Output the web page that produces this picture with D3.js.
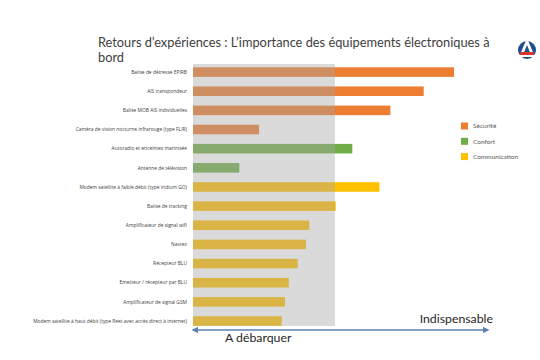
<!DOCTYPE html>
<html><head><meta charset="utf-8">
<script src="https://cdn.jsdelivr.net/npm/d3@7"></script>
<style>html,body{margin:0;padding:0;background:#fff;}svg{display:block;}</style>
</head><body>
<script>
const categories = [
  "Balise de détresse EPIRB",
  "AIS transpondeur",
  "Balise MOB AIS individuelles",
  "Caméra de vision nocturne infrarouge (type FLIR)",
  "Autoradio et enceintes marinisée",
  "Antenne de télévision",
  "Modem satellite à faible débit (type iridium GO)",
  "Balise de tracking",
  "Amplificateur de signal wifi",
  "Navtex",
  "Récepteur BLU",
  "Emetteur / récepteur par BLU",
  "Amplificateur de signal GSM",
  "Modem satellite à haut débit (type fleet avec accès direct à internet)"
];
const values = [8.85, 7.82, 6.69, 2.24, 5.40, 1.57, 6.32, 4.84, 3.94, 3.83, 3.55, 3.25, 3.12, 3.01];
const groups = ["Sécurité","Sécurité","Sécurité","Sécurité","Confort","Confort",
  "Communication","Communication","Communication","Communication","Communication","Communication","Communication","Communication"];
const seriesNames = ["Sécurité", "Confort", "Communication"];
const seriesColors = ["#ED7D31", "#70AD47", "#FFC000"];
const threshold = 4.81;
const titleLines = ["Retours d’expériences : L’importance des équipements électroniques à", "bord"];
const axisLabels = ["A débarquer", "Indispensable"];

const W = 540, H = 360;
const svg = d3.select("body").append("svg").attr("width", W).attr("height", H);
const font = "Lato, 'Open Sans', sans-serif";

const x = d3.scaleLinear().domain([0, 10]).range([193, 488]);
const y = d3.scaleBand().domain(categories).range([62.5, 330.6]).paddingInner(0.5).paddingOuter(0.25);
const color = d3.scaleOrdinal().domain(seriesNames).range(seriesColors);

// title
svg.append("g").selectAll("text").data(titleLines).join("text")
  .attr("x", 98).attr("y", (d, i) => 47 + i * 15)
  .attr("font-family", font).attr("font-size", 12.8).attr("fill", "#404040")
  .text(d => d);

// bars
svg.append("g").selectAll("rect").data(categories).join("rect")
  .attr("x", x(0)).attr("y", d => y(d))
  .attr("width", (d, i) => x(values[i]) - x(0))
  .attr("height", y.bandwidth())
  .attr("fill", (d, i) => color(groups[i]));

// gray overlay
svg.append("rect")
  .attr("x", x(0)).attr("y", 64)
  .attr("width", x(threshold) - x(0)).attr("height", 262)
  .attr("fill", "#A8A8A8").attr("opacity", 0.42);

// category labels
svg.append("g").selectAll("text").data(categories).join("text")
  .attr("x", 187).attr("y", d => y(d) + y.bandwidth() / 2)
  .attr("dy", "0.35em").attr("text-anchor", "end")
  .attr("font-family", "'Open Sans', sans-serif").attr("font-size", 4.9).attr("fill", "#404040")
  .text(d => d);

// legend
const lg = svg.append("g").selectAll("g").data(seriesNames).join("g")
  .attr("transform", (d, i) => `translate(461,${122.5 + i * 15.3})`);
lg.append("rect").attr("width", 7).attr("height", 7).attr("fill", d => color(d));
lg.append("text").attr("x", 12).attr("y", 3.5).attr("dy", "0.35em")
  .attr("font-family", font).attr("font-size", 6.5).attr("fill", "#595959").text(d => d);

// double arrow axis
const defs = svg.append("defs");
defs.append("marker").attr("id", "ah").attr("viewBox", "0 0 10 10").attr("refX", 8).attr("refY", 5)
  .attr("markerWidth", 4).attr("markerHeight", 4).attr("orient", "auto-start-reverse")
  .append("path").attr("d", "M0,0 L10,5 L0,10 z").attr("fill", "#5B80B0");
svg.append("line").attr("x1", x(0)).attr("x2", x(10)).attr("y1", 330).attr("y2", 330)
  .attr("stroke", "#5B80B0").attr("stroke-width", 1.6)
  .attr("marker-start", "url(#ah)").attr("marker-end", "url(#ah)");

svg.append("text").attr("x", 225).attr("y", 342)
  .attr("font-family", font).attr("font-size", 12.3).attr("fill", "#262626").text(axisLabels[0]);
svg.append("text").attr("x", 493).attr("y", 323).attr("text-anchor", "end")
  .attr("font-family", font).attr("font-size", 12.3).attr("fill", "#262626").text(axisLabels[1]);

// logo
const logo = svg.append("g").attr("transform", "translate(527,50)");
logo.append("circle").attr("r", 9).attr("fill", "#1F4E8C");
logo.append("path").attr("d", "M0,-12 L8,7 L-8,7 Z").attr("fill", "#fff");
logo.append("path").attr("d", "M0,-5 L4,5 L-4,5 Z").attr("fill", "#1F4E8C");
logo.append("rect").attr("x", -7).attr("y", 2).attr("width", 14).attr("height", 3).attr("fill", "#D9342B");
</script>
</body></html>
